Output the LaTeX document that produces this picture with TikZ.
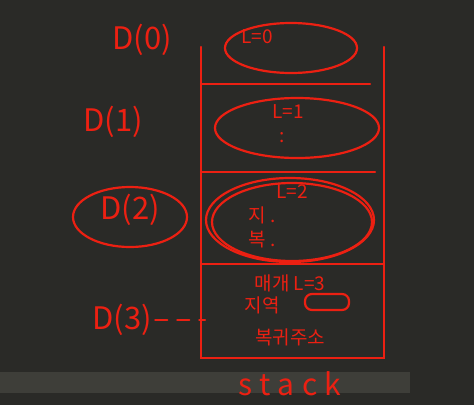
\documentclass[tikz,border=0pt]{standalone}
\usepackage{fontspec}
\newfontfamily\krfont{Noto Sans CJK KR}
\definecolor{pen}{RGB}{236,32,18}
\definecolor{board}{RGB}{42,42,39}
\definecolor{band}{RGB}{62,62,57}
\begin{document}
\begin{tikzpicture}[x=1pt,y=-1pt,
    pen/.style={draw=pen,line width=2.2pt,line cap=round},
    big/.style={text=pen,font=\krfont\fontsize{31}{31}\selectfont},
    small/.style={text=pen,font=\krfont\fontsize{19}{19}\selectfont}]
        %board
        \fill[board] (0,0) rectangle (474,405);
        \fill[band] (0,372) rectangle (410,393);
        \useasboundingbox (0,0) rectangle (474,405);

        %stack
        \draw[pen] (201,47) -- (201,358) -- (384,358) -- (384,47);
        \draw[pen] (201,84) -- (370,84);
        \draw[pen] (201,172) -- (375,172);
        \draw[pen] (201,264) -- (384,264);
        \node[big,font=\krfont\fontsize{30}{30}\selectfont\addfontfeature{LetterSpace=25}] (stack) at (290,384) {stack};

        %frame D(0)
        \draw[pen] (291,48) ellipse (66 and 25);
        \node[small] (l0) at (257,37) {L=0};
        \node[big] (d0) at (142,40) {D(0)};

        %frame D(1)
        \draw[pen] (297,128) ellipse (82 and 30);
        \node[small] (l1) at (288,112) {L=1};
        \node[small] (dots1) at (282,138) {:};
        \node[big] (d1) at (113,122) {D(1)};

        %frame D(2)
        \draw[pen] (290,220) ellipse (84 and 42);
        \draw[pen] (292,222) ellipse (80 and 39);
        \node[small] (l2) at (292,192) {L=2};
        \node[small] (v2) at (262,215) {지 .};
        \node[small] (r2) at (262,240) {복 .};
        \node[big] (d2) at (130,210) {D(2)};
        \draw[pen] (130,217) ellipse (57 and 30);

        %frame D(3)
        \node[small] (par) at (290,283) {매개 L=3};
        \node[small] (loc) at (262,305) {지역};
        \draw[pen,rounded corners=7pt] (305,294) rectangle (349,310);
        \node[small] (ret) at (290,337) {복귀주소};
        \node[big] (d3) at (122,320) {D(3)};
        \draw[pen,dash pattern=on 12pt off 10pt] (d3.east) -- (205,320);
    \end{tikzpicture}
\end{document}
